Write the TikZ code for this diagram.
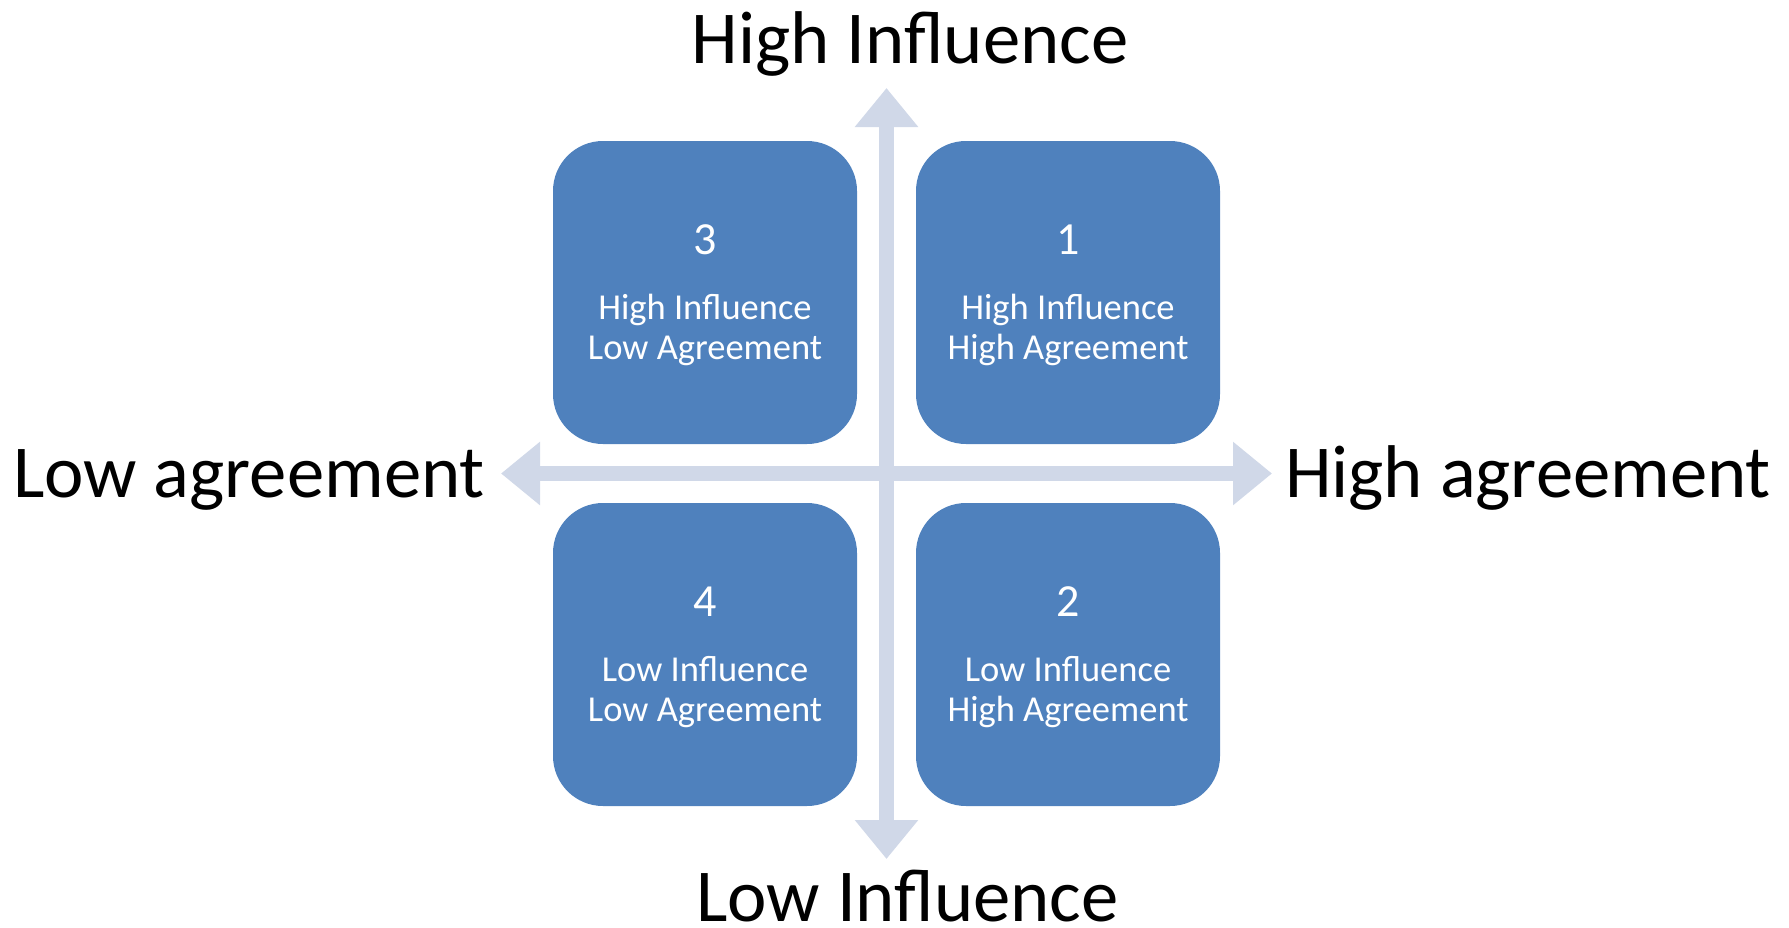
\documentclass[tikz,border=0pt]{standalone}
\usepackage{fontspec}
\setmainfont{Carlito}
\usetikzlibrary{arrows.meta}
\definecolor{boxblue}{RGB}{79,129,189}
\definecolor{axisgray}{RGB}{208,216,232}
\tikzset{
  quad/.style={fill=boxblue, draw=none, rounded corners=50pt, minimum width=304pt, minimum height=303pt, inner sep=0pt},
  numtxt/.style={anchor=base, text=white, font=\fontsize{46}{50}\selectfont, inner sep=0pt},
  qtxt/.style={anchor=base, text=white, font=\fontsize{36.5}{40}\selectfont, inner sep=0pt},
  biglbl/.style={anchor=base, text=black, font=\fontsize{74.7}{86}\selectfont, inner sep=0pt},
  axis/.style={draw=axisgray, line width=15pt, {Triangle[width=61pt,length=39pt]}-{Triangle[width=61pt,length=39pt]}}
}
\begin{document}
\begin{tikzpicture}[x=1pt,y=-1pt]
\useasboundingbox (0,0) rectangle (1789,927);
% axes
\coordinate (vtop) at (886.5,88);
\coordinate (vbot) at (886.5,859);
\coordinate (hleft) at (501,473.5);
\coordinate (hright) at (1272,473.5);
\draw[axis] (vbot) -- (vtop);
\draw[axis] (hleft) -- (hright);
% boxes
\node[quad] (b3) at (705,292.5) {};
\node[quad] (b1) at (1068,292.5) {};
\node[quad] (b4) at (705,654.5) {};
\node[quad] (b2) at (1068,654.5) {};
% box texts
\node[numtxt] (n3) at (705,254) {3};
\node[qtxt] (t3a) at (705,319) {High Influence};
\node[qtxt] (t3b) at (705,359) {Low Agreement};
\node[numtxt] (n1) at (1068,254) {1};
\node[qtxt] (t1a) at (1068,319) {High Influence};
\node[qtxt] (t1b) at (1068,359) {High Agreement};
\node[numtxt] (n4) at (705,616) {4};
\node[qtxt] (t4a) at (705,681) {Low Influence};
\node[qtxt] (t4b) at (705,721) {Low Agreement};
\node[numtxt] (n2) at (1068,616) {2};
\node[qtxt] (t2a) at (1068,681) {Low Influence};
\node[qtxt] (t2b) at (1068,721) {High Agreement};
% axis labels
\node[biglbl] (ltop) at (910,63) {High Influence};
\node[biglbl] (lbot) at (907.5,921) {Low Influence};
\node[biglbl, anchor=base west] (lleft) at (13,497) {Low agreement};
\node[biglbl, anchor=base east] (lright) at (1771,497) {High agreement};
\end{tikzpicture}
\end{document}
